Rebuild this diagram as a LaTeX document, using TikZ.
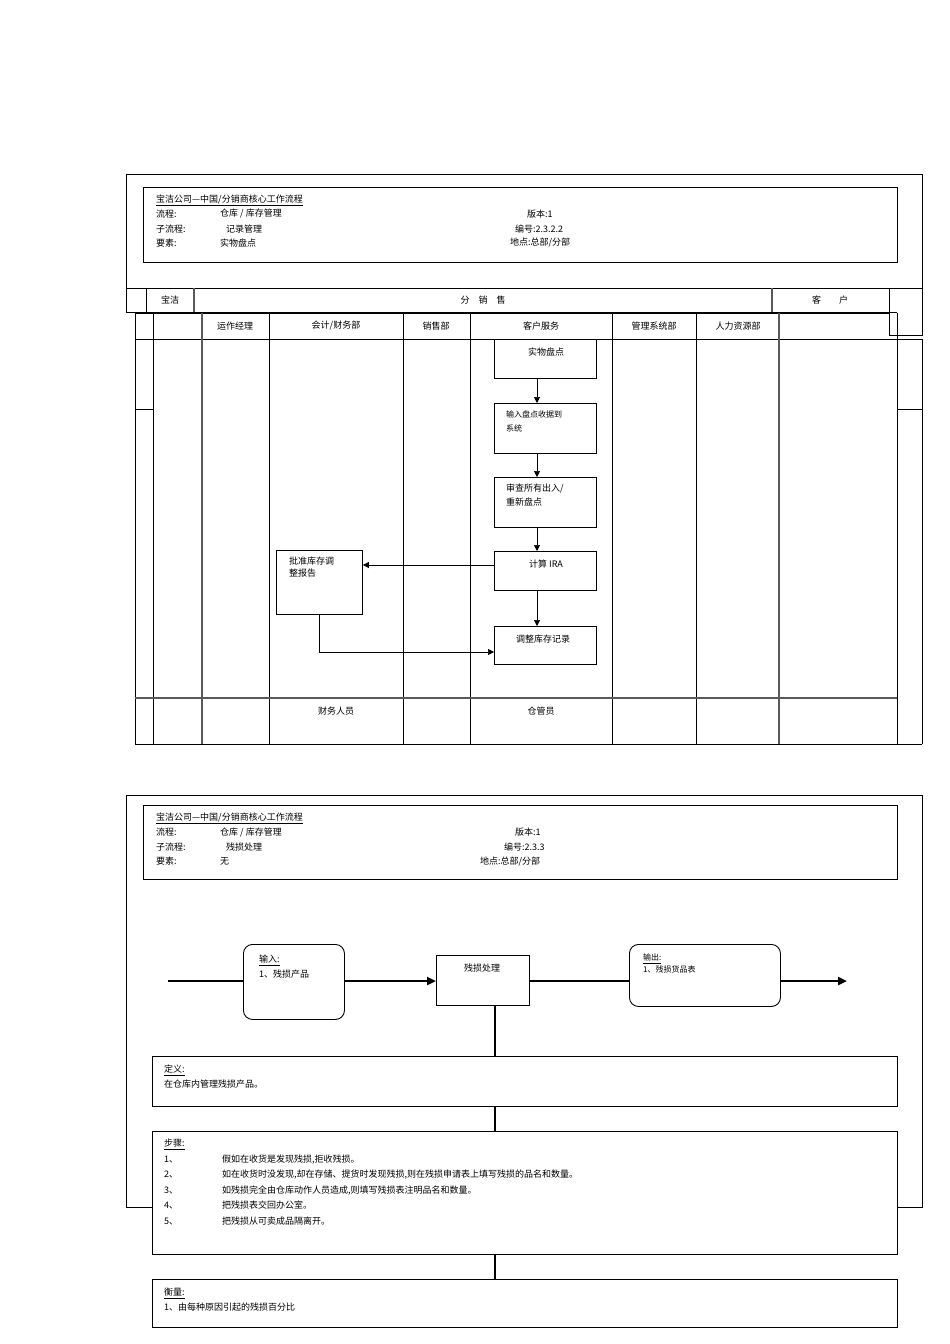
\documentclass[tikz,border=0pt]{standalone}
\usepackage{fontspec}
\setmainfont{Noto Sans CJK SC}
\usetikzlibrary{arrows.meta}
\begin{document}
\begin{tikzpicture}[x=1pt,y=-1pt,
  t/.style={anchor=west,inner sep=0pt,font=\fontsize{9}{14.5}\selectfont},
  c/.style={inner sep=0pt,font=\fontsize{9}{12}\selectfont},
  box/.style={draw,line width=0.8pt},
  proc/.style={draw,line width=0.9pt,anchor=north west,inner sep=0pt},
  arr/.style={-{Triangle[length=6pt,width=6pt]},line width=0.7pt},
  thick arr/.style={-{Triangle[length=9pt,width=8pt]},line width=2.2pt},
  grid/.style={line width=0.6pt},
  dbl/.style={line width=1.4pt,gray!70!black}]
\useasboundingbox (0,0) rectangle (950,1344);
% ===== Page 1 =====
\draw[grid] (126,288) -- (126,174) -- (922,174) -- (922,335) -- (889,335);
\draw[box] (143,187) rectangle (897,262);
\node[t] (h1) at (156,200) {\underline{宝洁公司—中国/分销商核心工作流程}};
\node[t] (h2) at (156,214) {流程:};
\node[t] (h3) at (220,214) {仓库 / 库存管理};
\node[t] (h4) at (527,214) {版本:1};
\node[t] (h5) at (156,229) {子流程:};
\node[t] (h6) at (226,229) {记录管理};
\node[t] (h7) at (515,229) {编号:2.3.2.2};
\node[t] (h8) at (156,243) {要素:};
\node[t] (h9) at (220,243) {实物盘点};
\node[t] (h10) at (510,243) {地点:总部/分部};
% row 1
\draw[grid] (126,288) -- (922,288);
\draw[grid] (126,312) -- (897,312);
\draw[grid] (126,288) -- (126,312);
\draw[grid] (146,288) -- (146,312);
\draw[dbl] (194,288) -- (194,312);
\draw[dbl] (772,288) -- (772,312);
\draw[grid] (889,288) -- (889,335);
\node[c] (r1) at (170,300) {宝洁};
\node[c] (r2) at (483,300) {分\quad 销\quad 售};
\node[c] (r3) at (830,300) {客\qquad 户};
% row 2
\draw[grid] (135,313) -- (889,313);
\draw[grid] (135,339) -- (922,339);
\foreach \x in {135,153,269,403,470,612,696} \draw[grid] (\x,313) -- (\x,744);
\foreach \x in {202,779} \draw[dbl] (\x,313) -- (\x,744);
\draw[grid] (897,313) -- (897,744);
\draw[grid] (922,339) -- (922,744);
\draw[grid] (135,744) -- (922,744);
\draw[dbl] (135,698) -- (897,698);
\draw[grid] (135,409) -- (153,409);
\draw[grid] (897,409) -- (922,409);
\node[c] (l1) at (235,326) {运作经理};
\node[c] (l2) at (336,326) {会计/财务部};
\node[c] (l3) at (436,326) {销售部};
\node[c] (l4) at (541,326) {客户服务};
\node[c] (l5) at (654,326) {管理系统部};
\node[c] (l6) at (738,326) {人力资源部};
\node[c] (b1) at (336,711) {财务人员};
\node[c] (b2) at (541,711) {仓管员};
% process nodes
\node[proc,minimum width=102pt,minimum height=39pt] (n1) at (494,339) {};
\node[c] at (546,352) {实物盘点};
\node[proc,minimum width=102pt,minimum height=50pt] (n2) at (494,403) {};
\node[c,align=left,anchor=north west,font=\fontsize{8}{14}\selectfont] at (506,410) {输入盘点收据到\\系统};
\node[proc,minimum width=102pt,minimum height=50pt] (n3) at (494,477) {};
\node[c,align=left,anchor=north west,font=\fontsize{9}{14}\selectfont] at (506,484) {审查所有出入/\\重新盘点};
\node[proc,minimum width=102pt,minimum height=39pt] (n4) at (494,551) {};
\node[c] at (546,564) {计算 IRA};
\node[proc,minimum width=102pt,minimum height=38pt] (n5) at (494,626) {};
\node[c] at (543,639) {调整库存记录};
\node[proc,minimum width=86pt,minimum height=64pt] (n6) at (276,550) {};
\node[c,align=left,anchor=north west,font=\fontsize{9}{12}\selectfont] at (289,557) {批准库存调\\整报告};
\draw[arr] (n1.south -| 537,0) -- (n2.north -| 537,0);
\draw[arr] (n2.south -| 537,0) -- (n3.north -| 537,0);
\draw[arr] (n3.south -| 537,0) -- (n4.north -| 537,0);
\draw[arr] (n4.south -| 537,0) -- (n5.north -| 537,0);
\draw[arr] (n4.west |- 0,565) -- (n6.east |- 0,565);
\draw[arr] (n6.south -| 319,0) |- (n5.west |- 0,652);
% ===== Page 2 =====
\draw[grid] (126,1207) -- (126,795) -- (922,795) -- (922,1207) -- (897,1207);
\draw[grid] (126,1207) -- (152,1207);
\draw[box] (143,805) rectangle (897,879);
\node[t] (g1) at (156,818) {\underline{宝洁公司—中国/分销商核心工作流程}};
\node[t] (g2) at (156,832) {流程:};
\node[t] (g3) at (220,832) {仓库 / 库存管理};
\node[t] (g4) at (515,832) {版本:1};
\node[t] (g5) at (156,847) {子流程:};
\node[t] (g6) at (226,847) {残损处理};
\node[t] (g7) at (504,847) {编号:2.3.3};
\node[t] (g8) at (156,861) {要素:};
\node[t] (g9) at (220,861) {无};
\node[t] (g10) at (480,861) {地点:总部/分部};
\node[draw,line width=0.9pt,rounded corners=9pt,anchor=north west,minimum width=101pt,minimum height=75pt] (in) at (243,944) {};
\node[t,anchor=north west,align=left] at (259,955) {\underline{输入:}\\1、残损产品};
\node[proc,minimum width=93pt,minimum height=50pt] (proc) at (436,955) {};
\node[c] at (482,968) {残损处理};
\node[draw,line width=0.9pt,rounded corners=9pt,anchor=north west,minimum width=151pt,minimum height=62pt] (out) at (629,944) {};
\node[t,anchor=north west,align=left,font=\fontsize{8}{12}\selectfont] at (643,954) {\underline{输出:}\\1、残损货品表};
\coordinate (s) at (168,981);
\coordinate (e) at (847,981);
\draw[line width=2.2pt] (s) -- (in.west |- s);
\draw[thick arr] (in.east |- s) -- (proc.west |- s);
\draw[line width=2.2pt] (proc.east |- s) -- (out.west |- s);
\draw[thick arr] (out.east |- s) -- (e);
\node[box,anchor=north west,minimum width=745pt,minimum height=50pt] (def) at (152,1056) {};
\node[t,anchor=north west,align=left] at (164,1065) {\underline{定义:}\\在仓库内管理残损产品。};
\node[box,anchor=north west,minimum width=745pt,minimum height=123pt] (st) at (152,1131) {};
\node[t,anchor=north west,align=left,font=\fontsize{9}{15.5}\selectfont] at (164,1139) {\underline{步骤:}\\1、\\2、\\3、\\4、\\5、};
\node[t,anchor=north west,align=left,font=\fontsize{9}{15.5}\selectfont] at (222,1154.5) {假如在收货是发现残损,拒收残损。\\如在收货时没发现,却在存储、提货时发现残损,则在残损申请表上填写残损的品名和数量。\\如残损完全由仓库动作人员造成,则填写残损表注明品名和数量。\\把残损表交回办公室。\\把残损从可卖成品隔离开。};
\node[box,anchor=north west,minimum width=745pt,minimum height=48pt] (me) at (152,1279) {};
\node[t,anchor=north west,align=left] at (164,1288) {\underline{衡量:}\\1、由每种原因引起的残损百分比};
\draw[line width=2.2pt] (proc.south -| 495,0) -- (def.north -| 495,0);
\draw[line width=2.2pt] (def.south -| 495,0) -- (st.north -| 495,0);
\draw[line width=2.2pt] (st.south -| 495,0) -- (me.north -| 495,0);
\end{tikzpicture}
\end{document}
